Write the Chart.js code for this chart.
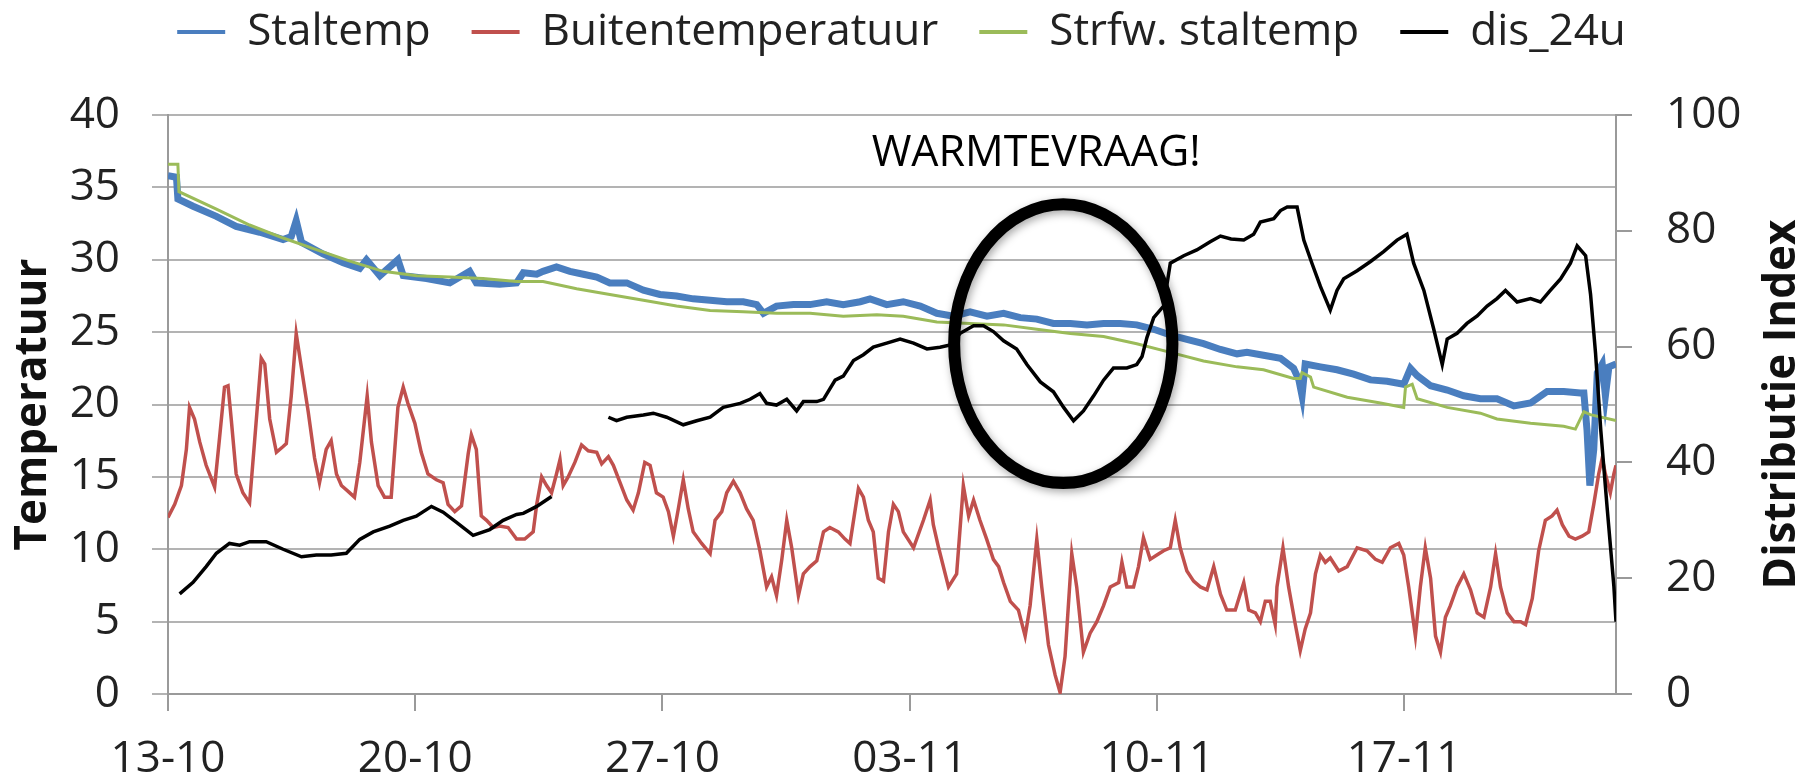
<!DOCTYPE html>
<html>
<head>
<meta charset="utf-8">
<script src="https://cdn.jsdelivr.net/npm/chart.js@4.4.1/dist/chart.umd.min.js"></script>
<style>
  html, body { margin: 0; padding: 0; background: #fff; }
</style>
</head>
<body>
<canvas id="myChart" width="1803" height="781"></canvas>
<script>
// x values are days since 13-10 (00:00)
var xTickDays = [0, 7, 14, 21, 28, 35];
var xTickLabels = ['13-10', '20-10', '27-10', '03-11', '10-11', '17-11'];

var seriesNames = ['Staltemp', 'Buitentemperatuur', 'Strfw. staltemp', 'dis_24u'];

var staltempDays = [0.00,0.24,0.28,0.71,1.37,1.93,2.60,3.26,3.49,3.63,3.78,4.39,4.96,5.43,5.62,6.00,6.51,6.66,7.32,7.98,8.54,8.73,9.39,9.87,
  10.06,10.44,10.62,11.00,11.38,11.76,12.14,12.51,12.99,13.46,13.93,14.40,14.87,15.35,15.82,16.29,16.67,16.86,17.23,17.71,18.18,18.65,19.12,19.60,19.88,
  20.35,20.82,21.30,21.77,22.24,22.71,23.19,23.66,24.13,24.60,25.07,25.55,26.02,26.49,26.96,27.43,27.91,28.38,28.85,29.32,29.80,
  30.27,30.55,31.02,31.50,31.87,32.02,32.11,32.20,32.63,33.10,33.57,34.05,34.52,34.99,35.18,35.37,35.75,36.22,36.69,37.16,37.63,38.11,38.58,39.05,39.52,39.99,
  40.09,40.18,40.26,40.37,40.47,40.61,40.70,40.80,41.00];
var staltempVals = [35.8,35.7,34.2,33.7,33.0,32.3,31.9,31.4,31.6,32.7,31.2,30.4,29.8,29.4,30.0,28.9,30.0,28.9,28.7,28.4,29.2,28.4,28.3,28.4,
  29.1,29.0,29.2,29.5,29.2,29.0,28.8,28.4,28.4,27.9,27.6,27.5,27.3,27.2,27.1,27.1,26.9,26.3,26.8,26.9,26.9,27.1,26.9,27.1,27.3,
  26.9,27.1,26.8,26.3,26.1,26.4,26.1,26.3,26.0,25.9,25.6,25.6,25.5,25.6,25.6,25.5,25.2,24.8,24.5,24.2,23.8,
  23.5,23.6,23.4,23.2,22.5,21.7,20.6,22.8,22.6,22.4,22.1,21.7,21.6,21.4,22.5,22.0,21.3,21.0,20.6,20.4,20.4,19.9,20.1,20.9,20.9,20.8,
  20.8,18.2,14.4,16.9,22.2,22.8,20.6,22.6,22.8];

var buitenDays = [0.00,0.19,0.38,0.52,0.61,0.75,0.90,1.08,1.32,1.46,1.60,1.70,1.79,1.93,2.12,2.31,2.45,2.64,2.74,2.88,3.07,3.26,3.35,3.49,3.63,3.78,3.97,
  4.15,4.29,4.48,4.62,4.77,4.91,5.10,5.28,5.43,5.64,5.76,5.95,6.13,6.32,6.51,6.66,6.79,6.99,7.17,7.36,7.60,7.79,7.93,8.12,8.31,8.50,8.59,8.73,8.87,
  9.02,9.21,9.39,9.63,9.87,10.10,10.34,10.44,10.58,10.72,10.86,11.00,11.10,11.19,11.33,11.52,11.71,11.90,12.14,12.28,12.47,12.61,12.80,12.99,
  13.17,13.32,13.50,13.65,13.83,14.02,14.17,14.31,14.45,14.59,14.73,14.87,15.11,15.35,15.49,15.68,15.82,16.01,16.20,16.38,16.57,16.76,16.95,
  17.09,17.23,17.38,17.52,17.66,17.85,17.99,18.18,18.37,18.56,18.74,18.98,19.17,19.31,19.55,19.69,19.83,19.97,20.11,20.26,20.40,20.54,20.68,
  20.82,21.11,21.39,21.58,21.67,21.82,22.10,22.33,22.52,22.67,22.81,22.99,23.18,23.37,23.52,23.66,23.85,24.08,24.27,24.41,24.60,24.74,24.93,
  25.12,25.26,25.40,25.59,25.73,25.92,26.11,26.30,26.49,26.68,26.92,27.01,27.15,27.34,27.48,27.62,27.81,28.00,28.19,28.38,28.52,28.66,28.85,
  29.04,29.23,29.42,29.61,29.80,29.98,30.22,30.46,30.60,30.79,30.93,31.07,31.21,31.35,31.40,31.57,31.73,31.92,32.06,32.20,32.35,32.49,32.63,
  32.77,32.91,33.15,33.39,33.67,33.95,34.19,34.38,34.61,34.85,34.99,35.13,35.32,35.46,35.60,35.75,35.89,36.03,36.17,36.31,36.50,36.69,36.88,
  37.07,37.26,37.45,37.59,37.73,37.92,38.11,38.30,38.44,38.63,38.81,39.00,39.19,39.33,39.48,39.67,39.85,40.04,40.23,40.37,40.51,40.61,40.70,
  40.84,40.94,41.00];
var buitenVals = [12.2,13.1,14.4,16.9,19.8,19.0,17.4,15.8,14.3,17.7,21.2,21.3,19.0,15.2,13.9,13.2,17.4,23.2,22.8,19.0,16.7,17.1,17.3,20.6,24.9,22.5,19.5,
  16.3,14.6,16.9,17.5,15.2,14.4,14.0,13.6,16.0,20.6,17.4,14.4,13.6,13.6,19.8,21.2,20.1,18.7,16.7,15.2,14.8,14.6,13.1,12.6,13.0,16.6,17.9,16.9,12.3,
  12.0,11.5,11.6,11.5,10.7,10.7,11.2,13.1,15.0,14.4,13.9,15.2,16.2,14.4,15.0,16.0,17.2,16.8,16.7,15.9,16.4,15.8,14.6,13.4,
  12.7,13.9,16.0,15.8,13.9,13.6,12.6,10.9,12.8,14.8,12.8,11.2,10.4,9.7,12.0,12.6,13.9,14.7,13.9,12.8,12.0,9.9,7.4,
  8.1,6.8,9.3,12.0,10.1,6.8,8.3,8.8,9.2,11.2,11.5,11.2,10.7,10.4,14.2,13.6,12.0,11.2,8.0,7.8,11.2,13.1,12.6,
  11.2,10.1,12.0,13.4,11.7,10.1,7.4,8.3,14.4,12.3,13.4,12.0,10.7,9.3,8.8,7.7,6.4,5.8,4.0,6.1,10.7,7.4,3.4,
  1.3,0.1,2.6,9.7,7.4,2.9,4.2,5.0,6.1,7.4,7.7,9.1,7.4,7.4,8.8,10.8,9.3,9.6,9.9,10.1,12.0,10.1,8.5,
  7.8,7.4,7.2,8.8,6.9,5.8,5.8,7.7,5.8,5.6,5.0,6.4,6.4,4.8,7.4,10.1,7.4,4.8,3.0,4.5,5.6,8.3,9.6,
  9.1,9.4,8.5,8.8,10.1,9.9,9.3,9.1,10.1,10.4,9.6,7.4,4.0,7.4,10.1,8.0,4.0,2.9,5.3,6.1,7.4,8.3,7.2,
  5.6,5.3,7.4,9.7,7.4,5.6,5.0,5.0,4.8,6.6,9.9,12.0,12.3,12.7,11.7,10.9,10.7,10.9,11.2,13.1,15.2,16.3,15.2,
  13.9,15.2,15.8];

var strfwDays = [0.00,0.28,0.31,1.37,2.31,3.26,4.20,5.15,6.09,7.04,7.98,8.92,9.87,10.62,11.57,12.51,13.46,14.40,15.35,16.29,17.23,18.18,19.12,20.07,
  20.82,21.77,22.71,23.66,24.60,25.55,26.49,27.43,28.38,29.32,30.27,31.02,31.87,32.06,32.11,32.35,32.44,33.39,34.33,34.99,35.04,35.23,35.37,
  36.22,37.16,37.63,38.58,39.52,39.85,40.09,40.27,41.00];
var strfwVals = [36.6,36.6,34.7,33.5,32.4,31.5,30.7,29.9,29.2,28.9,28.8,28.7,28.5,28.5,28.0,27.6,27.2,26.8,26.5,26.4,26.3,26.3,26.1,26.2,
  26.1,25.7,25.6,25.5,25.2,24.9,24.7,24.2,23.6,23.0,22.6,22.4,21.8,21.8,22.2,21.9,21.2,20.5,20.1,19.8,21.2,21.4,20.4,
  19.8,19.4,19.0,18.7,18.5,18.3,19.5,19.3,18.9];

// null breaks the line where the logger had no data
var disDays = [0.33,0.71,1.08,1.37,1.74,2.03,2.31,2.78,3.26,3.78,4.20,4.62,5.05,5.43,5.81,6.28,6.66,7.03,7.46,7.79,8.16,8.64,9.11,9.49,9.87,
  10.06,10.44,10.86,11.60,12.47,12.70,12.99,13.46,13.74,14.12,14.59,14.97,15.35,15.72,16.20,16.48,16.76,16.95,17.23,17.52,17.80,17.99,
  18.37,18.56,18.89,19.12,19.41,19.69,19.97,20.35,20.73,21.11,21.49,21.86,22.15,22.43,22.81,23.09,23.37,23.66,24.03,24.32,24.70,25.07,
  25.36,25.64,25.92,26.21,26.49,26.77,27.15,27.43,27.58,27.72,27.91,28.19,28.38,28.76,29.13,29.51,29.80,30.10,30.46,30.74,30.93,31.31,
  31.50,31.69,31.97,32.16,32.39,32.63,32.91,33.10,33.29,33.67,34.05,34.42,34.80,35.08,35.27,35.56,35.84,36.08,36.22,36.50,36.78,37.07,
  37.35,37.63,37.87,38.20,38.58,38.86,39.14,39.43,39.71,39.90,40.14,40.28,40.42,40.57,40.75,40.94,41.00];
var disVals = [17.3,19.3,22.0,24.3,26.0,25.7,26.3,26.3,25.0,23.7,24.0,24.0,24.3,26.7,28.0,29.0,30.0,30.7,32.4,31.4,29.7,27.4,28.4,30.0,31.0,
  31.2,32.4,34.1,null,47.8,47.2,47.8,48.2,48.5,47.8,46.5,47.2,47.8,49.5,50.2,50.9,51.9,50.2,49.9,50.9,48.9,50.5,
  50.5,50.9,54.2,54.9,57.6,58.6,59.9,60.6,61.3,60.6,59.6,59.9,60.3,62.3,63.6,63.6,62.6,61.0,59.6,56.9,53.9,52.2,
  49.5,47.2,48.9,51.5,54.2,56.3,56.3,56.9,58.3,61.6,65.0,67.0,74.4,75.7,76.7,78.1,79.1,78.6,78.4,79.4,81.5,82.1,
  83.5,84.1,84.1,78.4,74.4,70.4,66.3,69.7,71.7,73.1,74.7,76.4,78.4,79.4,74.4,69.7,63.0,56.9,61.3,62.3,64.0,65.3,
  67.0,68.3,69.7,67.7,68.3,67.7,69.7,71.7,74.4,77.4,75.7,69.0,58.9,45.5,32.1,18.6,12.5];

// the circled remark
var ringDay = 25.35, ringTemp = 24.2, ringHalfDays = 3.09, ringHalfTemp = 9.63;
var noteText = 'WARMTEVRAAG!', noteDay = 24.58, noteTemp = 37.3;

function pairs(days, vals) {
  return days.map(function (d, i) { return { x: d, y: vals[i] }; });
}

Chart.defaults.font.family = "'Open Sans', sans-serif";
Chart.defaults.font.size = 44;
Chart.defaults.color = '#222';

var legendHeight = 146;
var legendFit = {
  id: 'legendFit',
  beforeLayout: function (chart) {
    var lg = chart.legend;
    if (!lg || lg._fitPatched) return;
    var fit = lg.fit;
    lg.fit = function () { fit.call(this); this.height = legendHeight; };
    lg._fitPatched = true;
  }
};

var notes = {
  id: 'notes',
  afterDraw: function (chart) {
    var ctx = chart.ctx, x = chart.scales.x, y = chart.scales.y, y1 = chart.scales.y1;
    var cx = x.getPixelForValue(ringDay), cy = y.getPixelForValue(ringTemp);
    var rx = x.getPixelForValue(ringDay + ringHalfDays) - cx;
    var ry = cy - y.getPixelForValue(ringTemp + ringHalfTemp);
    ctx.save();
    ctx.shadowColor = 'rgba(0,0,0,0.35)';
    ctx.shadowBlur = 8;
    ctx.shadowOffsetX = 2;
    ctx.shadowOffsetY = 3;
    ctx.lineWidth = 12;
    ctx.strokeStyle = '#000';
    ctx.beginPath();
    ctx.ellipse(cx, cy, rx, ry, 0, 0, Math.PI * 2);
    ctx.stroke();
    ctx.restore();

    ctx.save();
    ctx.fillStyle = '#000';
    ctx.font = "43px 'Open Sans', sans-serif";
    ctx.textAlign = 'center';
    ctx.textBaseline = 'middle';
    ctx.fillText(noteText, x.getPixelForValue(noteDay), y.getPixelForValue(noteTemp));
    ctx.restore();

    // right title reads bottom-to-top like the left one
    ctx.save();
    ctx.translate(y1.right - 21, (chart.chartArea.top + chart.chartArea.bottom) / 2);
    ctx.rotate(-Math.PI / 2);
    ctx.fillStyle = '#111';
    ctx.font = "bold 44px 'Open Sans', sans-serif";
    ctx.textAlign = 'center';
    ctx.textBaseline = 'middle';
    ctx.fillText('Distributie Index', 0, 0);
    ctx.restore();
  }
};

var ctx = document.getElementById('myChart').getContext('2d');
var chart = new Chart(ctx, {
  type: 'line',
  data: {
    datasets: [{
      label: seriesNames[0],
      data: pairs(staltempDays, staltempVals),
      borderColor: '#4a7ebf',
      borderWidth: 7,
      yAxisID: 'y',
      order: 4
    }, {
      label: seriesNames[1],
      data: pairs(buitenDays, buitenVals),
      borderColor: '#c0504d',
      borderWidth: 3.5,
      yAxisID: 'y',
      order: 3
    }, {
      label: seriesNames[2],
      data: pairs(strfwDays, strfwVals),
      borderColor: '#9bbb59',
      borderWidth: 3,
      yAxisID: 'y',
      order: 2
    }, {
      label: seriesNames[3],
      data: pairs(disDays, disVals),
      borderColor: '#000000',
      borderWidth: 3.5,
      yAxisID: 'y1',
      order: 1
    }]
  },
  options: {
    responsive: false,
    animation: false,
    devicePixelRatio: 1,
    spanGaps: false,
    elements: {
      point: { radius: 0, hoverRadius: 0 },
      line: { tension: 0, fill: false }
    },
    layout: { padding: { top: -31, left: 0, right: 0, bottom: 0 } },
    plugins: {
      tooltip: { enabled: false },
      legend: {
        position: 'top',
        labels: {
          usePointStyle: true,
          pointStyle: 'line',
          pointStyleWidth: 48,
          padding: 41,
          color: '#222',
          font: { size: 44 },
          sort: function (a, b) { return a.datasetIndex - b.datasetIndex; },
          generateLabels: function (chart) {
            return Chart.defaults.plugins.legend.labels.generateLabels(chart).map(function (l) {
              l.lineWidth = 4;
              return l;
            });
          }
        }
      }
    },
    scales: {
      x: {
        type: 'linear',
        min: 0,
        max: 41,
        afterBuildTicks: function (scale) {
          scale.ticks = xTickDays.map(function (d) { return { value: d }; });
        },
        afterFit: function (scale) { scale.height = 87; },
        ticks: {
          autoSkip: false,
          maxRotation: 0,
          padding: 22,
          color: '#222',
          callback: function (v) { return xTickLabels[xTickDays.indexOf(v)]; }
        },
        grid: { drawOnChartArea: false, drawTicks: true, tickLength: 17, color: '#9a9a9a', lineWidth: 2 },
        border: { color: '#9a9a9a', width: 2 }
      },
      y: {
        position: 'left',
        min: 0,
        max: 40,
        afterFit: function (scale) { scale.width = 168; },
        ticks: { stepSize: 5, padding: 32, color: '#222' },
        grid: { color: '#b3b3b3', lineWidth: 2, drawTicks: true, tickLength: 16 },
        border: { color: '#9a9a9a', width: 2 },
        title: {
          display: true,
          text: 'Temperatuur',
          color: '#111',
          font: { size: 44, weight: 'bold', lineHeight: 1 },
          padding: { top: 11, bottom: 0 }
        }
      },
      y1: {
        position: 'right',
        min: 0,
        max: 100,
        afterFit: function (scale) { scale.width = 187; },
        ticks: { stepSize: 20, padding: 34, color: '#222' },
        grid: { drawOnChartArea: false, drawTicks: true, tickLength: 16, color: '#9a9a9a', lineWidth: 2 },
        border: { color: '#9a9a9a', width: 2 }
      }
    }
  },
  plugins: [legendFit, notes]
});
</script>
</body>
</html>
